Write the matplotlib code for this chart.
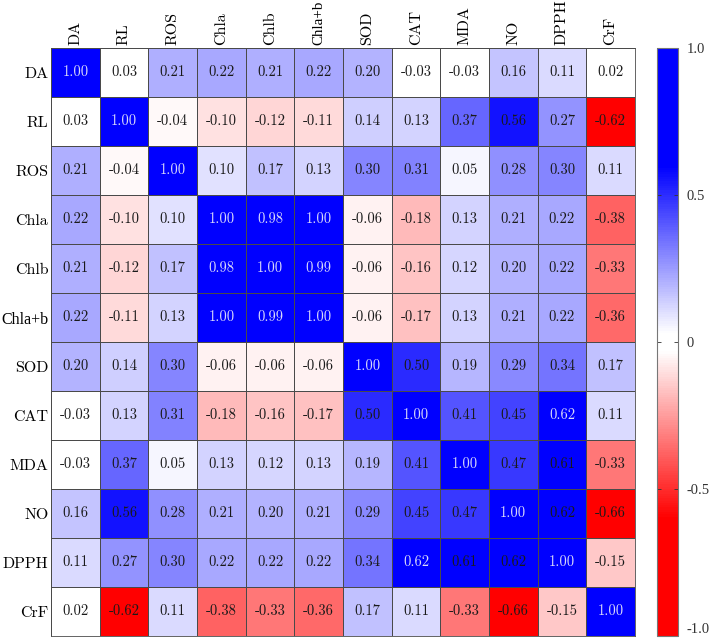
import matplotlib
matplotlib.use("Agg")
import matplotlib.pyplot as plt
import numpy as np
from matplotlib.colors import LinearSegmentedColormap

# ─────────────────────────────────────────
# Data
# ─────────────────────────────────────────
labels = ["DA", "RL", "ROS", "Chla", "Chlb", "Chla+b",
          "SOD", "CAT", "MDA", "NO", "DPPH", "CrF"]

corr = [
    [1.00, 0.03, 0.21, 0.22, 0.21, 0.22, 0.20, -0.03, -0.03, 0.16, 0.11, 0.02],
    [0.03, 1.00, -0.04, -0.10, -0.12, -0.11, 0.14, 0.13, 0.37, 0.56, 0.27, -0.62],
    [0.21, -0.04, 1.00, 0.10, 0.17, 0.13, 0.30, 0.31, 0.05, 0.28, 0.30, 0.11],
    [0.22, -0.10, 0.10, 1.00, 0.98, 1.00, -0.06, -0.18, 0.13, 0.21, 0.22, -0.38],
    [0.21, -0.12, 0.17, 0.98, 1.00, 0.99, -0.06, -0.16, 0.12, 0.20, 0.22, -0.33],
    [0.22, -0.11, 0.13, 1.00, 0.99, 1.00, -0.06, -0.17, 0.13, 0.21, 0.22, -0.36],
    [0.20, 0.14, 0.30, -0.06, -0.06, -0.06, 1.00, 0.50, 0.19, 0.29, 0.34, 0.17],
    [-0.03, 0.13, 0.31, -0.18, -0.16, -0.17, 0.50, 1.00, 0.41, 0.45, 0.62, 0.11],
    [-0.03, 0.37, 0.05, 0.13, 0.12, 0.13, 0.19, 0.41, 1.00, 0.47, 0.61, -0.33],
    [0.16, 0.56, 0.28, 0.21, 0.20, 0.21, 0.29, 0.45, 0.47, 1.00, 0.62, -0.66],
    [0.11, 0.27, 0.30, 0.22, 0.22, 0.22, 0.34, 0.62, 0.61, 0.62, 1.00, -0.15],
    [0.02, -0.62, 0.11, -0.38, -0.33, -0.36, 0.17, 0.11, -0.33, -0.66, -0.15, 1.00],
]

cbar_ticks = [-1.0, -0.5, 0.0, 0.5, 1.0]
cbar_ticklabels = ["-1.0", "-0.5", "0", "0.5", "1.0"]

# cells whose value is printed in light text besides the near-1 ones
light_pairs = [("CAT", "DPPH"), ("DPPH", "CAT")]

# ─────────────────────────────────────────
# Plot
# ─────────────────────────────────────────
data = np.array(corr)
n = len(labels)

cmap = LinearSegmentedColormap.from_list(
    "rwb",
    [(0.0, "#ff0000"), (0.2, "#ff0000"), (0.485, "#ffffff"), (0.515, "#ffffff"),
     (0.8, "#0000ff"), (1.0, "#0000ff")],
)

fig = plt.figure(figsize=(7.09, 6.42), dpi=100)
ax = fig.add_axes([0.072, 0.0093, 0.8236, 0.9158])
cax = fig.add_axes([0.9266, 0.0093, 0.0296, 0.9158])

mesh = ax.pcolormesh(data, cmap=cmap, vmin=-1, vmax=1,
                     edgecolors="#4a4a4a", linewidth=0.6)
ax.set_xlim(0, n)
ax.set_ylim(n, 0)

for i in range(n):
    for j in range(n):
        v = data[i, j]
        light = v >= 0.98 or (labels[i], labels[j]) in light_pairs
        ax.text(j + 0.5, i + 0.5, f"{v:.2f}",
                ha="center", va="center", fontsize=10.5, family="cmr10",
                color="#d8d8fa" if light else "#1a1a1a")

ax.xaxis.tick_top()
ax.set_xticks(np.arange(n) + 0.5)
ax.set_xticklabels(labels, rotation=90, family="cmr10", fontsize=11.5)
ax.set_yticks(np.arange(n) + 0.5)
ax.set_yticklabels(labels, family="cmr10", fontsize=11.5)
ax.tick_params(length=0, pad=2)
# the long label uses a narrower serif so it stays inside the figure
for t in ax.get_yticklabels():
    if t.get_text() == "Chla+b":
        t.set_family("Liberation Serif")
        t.set_fontsize(11.5)
for t in ax.get_xticklabels():
    if t.get_text() == "Chla+b":
        t.set_family("Liberation Serif")
        t.set_fontsize(10.8)
for s in ax.spines.values():
    s.set_color("#4a4a4a")
    s.set_linewidth(0.6)

cb = fig.colorbar(mesh, cax=cax, ticks=cbar_ticks)
cb.set_ticklabels(cbar_ticklabels)
cb.outline.set_edgecolor("#777777")
cb.outline.set_linewidth(0.8)
cax.tick_params(direction="in", length=3, width=0.6, left=True, right=True,
                colors="#333333", labelsize=10.5, pad=6)
for t in cax.get_yticklabels():
    t.set_family("Liberation Serif")
cax.get_yticklabels()[0].set_va("bottom")

fig.savefig("out.png", dpi=100)
